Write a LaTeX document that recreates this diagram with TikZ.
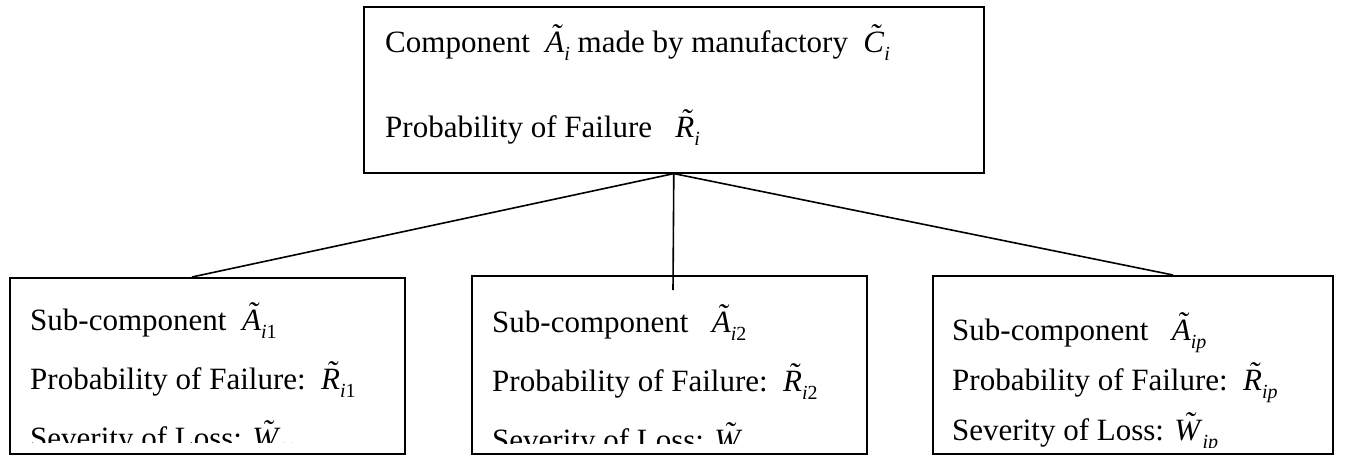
\documentclass[tikz,border=0pt]{standalone}
\usepackage{fontspec}
\setmainfont{Liberation Serif}
\newcommand\tld[1]{{\setbox0\hbox{\textit{#1}}\rlap{\hbox to \wd0{\hss\kern0.12em\raisebox{0.2em}{\textit{\char"02DC}}\hss}}\box0}}
\newcommand\tsym[2]{\tld{#1}\raisebox{-0.28em}{\fontsize{20}{20}\selectfont #2}}
\begin{document}
\begin{tikzpicture}[x=1pt,y=-1pt,
  box/.style={draw, line width=1.6pt, rectangle, inner sep=0pt, anchor=north west},
  txt/.style={anchor=base west, inner sep=0pt, font=\fontsize{31}{31}\selectfont},
  link/.style={line width=1.6pt}]
\useasboundingbox (0,0) rectangle (1346,455);
% boxes
\node[box, minimum width=620pt, minimum height=166pt] (top) at (363,6) {};
\node[box, minimum width=395pt, minimum height=176pt] (b1) at (9,277) {};
\node[box, minimum width=395pt, minimum height=178pt] (b2) at (471,275) {};
\node[box, minimum width=400pt, minimum height=178pt] (b3) at (932,275) {};
% top text
\node[txt] (t1) at (385,52) {Component\ \ \tsym{A}{\textit{i}} made by manufactory\ \ \tsym{C}{\textit{i}}};
\node[txt] (t2) at (385,137) {Probability of Failure\ \ \ \tsym{R}{\textit{i}}};
% bottom texts
\begin{scope}
\clip (9,277) rectangle (404,442);
\node[txt] (l1) at (30,330) {Sub-component\ \ \tsym{A}{\textit{i}1}};
\node[txt] (l2) at (30,389) {Probability of Failure:\ \ \tsym{R}{\textit{i}1}};
\node[txt] (l3) at (30,448) {Severity of Loss: \tsym{W}{\textit{i}1}};
\end{scope}
\begin{scope}
\clip (471,275) rectangle (866,443);
\node[txt] (m1) at (492,332) {Sub-component\ \ \ \tsym{A}{\textit{i}2}};
\node[txt] (m2) at (492,391) {Probability of Failure:\ \ \tsym{R}{\textit{i}2}};
\node[txt] (m3) at (492,450) {Severity of Loss: \tsym{W}{\textit{i}2}};
\end{scope}
\begin{scope}
\clip (932,275) rectangle (1332,447);
\node[txt] (r1) at (952,340) {Sub-component\ \ \ \tsym{A}{\textit{ip}}};
\node[txt] (r2) at (952,390) {Probability of Failure:\ \ \tsym{R}{\textit{ip}}};
\node[txt] (r3) at (952,440) {Severity of Loss: \tsym{W}{\textit{ip}}};
\end{scope}
% connectors
\coordinate (e1) at (192,277);
\coordinate (e2) at (673,290);
\coordinate (e3) at (1173,275);
\draw[link] (top.south) -- (e1);
\draw[link] (top.south) -- (e2);
\draw[link] (top.south) -- (e3);
\end{tikzpicture}
\end{document}
